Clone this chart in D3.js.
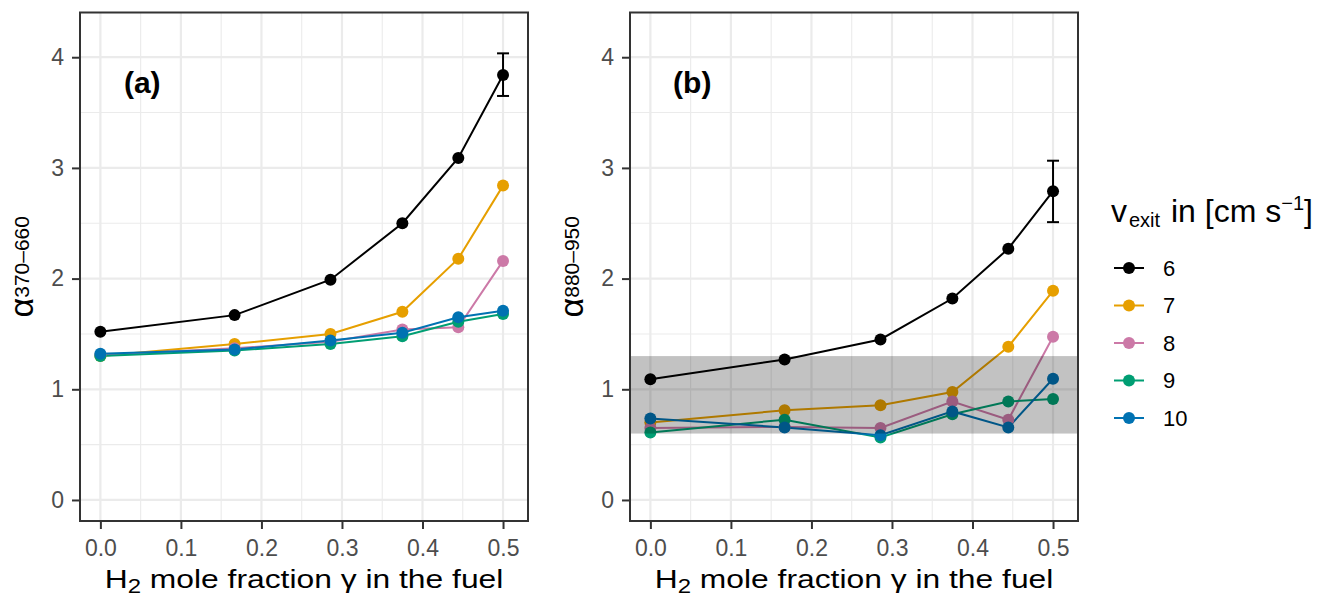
<!DOCTYPE html>
<html>
<head>
<meta charset="utf-8">
<script src="https://cdn.jsdelivr.net/npm/d3@7"></script>
<style>
  body { margin: 0; background: #fff; }
  svg { font-family: "Liberation Sans", Arial, Helvetica, sans-serif; }
</style>
</head>
<body>
<div id="chart"></div>
<script>
const width = 1321;
const height = 600;

// H2 mole fraction in the fuel
const gamma = [0, 1 / 6, 2 / 7, 3 / 8, 4 / 9, 0.5];
const speeds = ['6', '7', '8', '9', '10'];
const colors = ['#000000', '#E69F00', '#CC79A7', '#009E73', '#0072B2'];

// alpha 370-660, one row per exit speed
const alphaA = [
  [1.52, 1.67, 1.99, 2.50, 3.09, 3.84],
  [1.30, 1.41, 1.50, 1.70, 2.18, 2.84],
  [1.31, 1.37, 1.43, 1.54, 1.56, 2.16],
  [1.30, 1.35, 1.41, 1.48, 1.61, 1.68],
  [1.32, 1.36, 1.44, 1.51, 1.65, 1.71]
];
// alpha 880-950
const alphaB = [
  [1.09, 1.27, 1.45, 1.82, 2.27, 2.79],
  [0.70, 0.81, 0.855, 0.975, 1.385, 1.89],
  [0.65, 0.66, 0.65, 0.89, 0.725, 1.475],
  [0.61, 0.725, 0.565, 0.775, 0.89, 0.912],
  [0.735, 0.655, 0.585, 0.80, 0.655, 1.095]
];
// error bars on v = 6 at gamma = 0.5
const errA = [3.65, 4.035];
const errB = [2.51, 3.065];
// shaded band in panel b
const bandB = [0.6, 1.3];

const xTicks = [0, 0.1, 0.2, 0.3, 0.4, 0.5];
const xMinor = [0.05, 0.15, 0.25, 0.35, 0.45];
const yTicks = [0, 1, 2, 3, 4];
const yMinor = [0.5, 1.5, 2.5, 3.5];

const svg = d3.select('#chart')
  .append('svg')
  .attr('width', width)
  .attr('height', height);

function drawPanel(left, values, err, band, tag, sub) {
  const box = { left: left, right: left + 448, top: 12.5, bottom: 521 };

  const xScale = d3.scaleLinear()
    .domain([-0.0253, 0.531])
    .range([box.left, box.right]);
  const yScale = d3.scaleLinear()
    .domain([-0.19, 4.404])
    .range([box.bottom, box.top]);

  const g = svg.append('g');

  // grid
  const grid = g.append('g').attr('stroke', '#EBEBEB');
  grid.selectAll('.xmin').data(xMinor).join('line')
    .attr('x1', d => xScale(d)).attr('x2', d => xScale(d))
    .attr('y1', box.top).attr('y2', box.bottom).attr('stroke-width', 1.1);
  grid.selectAll('.ymin').data(yMinor).join('line')
    .attr('y1', d => yScale(d)).attr('y2', d => yScale(d))
    .attr('x1', box.left).attr('x2', box.right).attr('stroke-width', 1.1);
  grid.selectAll('.xmaj').data(xTicks).join('line')
    .attr('x1', d => xScale(d)).attr('x2', d => xScale(d))
    .attr('y1', box.top).attr('y2', box.bottom).attr('stroke-width', 2.2);
  grid.selectAll('.ymaj').data(yTicks).join('line')
    .attr('y1', d => yScale(d)).attr('y2', d => yScale(d))
    .attr('x1', box.left).attr('x2', box.right).attr('stroke-width', 2.2);

  const line = d3.line()
    .x((d, i) => xScale(gamma[i]))
    .y(d => yScale(d));

  // lines first, then points (like ggplot layers)
  g.append('g').selectAll('path')
    .data(values)
    .join('path')
    .attr('d', d => line(d))
    .attr('fill', 'none')
    .attr('stroke', (d, i) => colors[i])
    .attr('stroke-width', 2);

  values.forEach((row, i) => {
    g.append('g').selectAll('circle')
      .data(row)
      .join('circle')
      .attr('cx', (d, j) => xScale(gamma[j]))
      .attr('cy', d => yScale(d))
      .attr('r', 6)
      .attr('fill', colors[i]);
  });

  // error bar
  const ex = xScale(gamma[5]);
  const cap = 6;
  const eb = g.append('g').attr('stroke', '#000').attr('stroke-width', 2);
  eb.append('line').attr('x1', ex).attr('x2', ex)
    .attr('y1', yScale(err[0])).attr('y2', yScale(err[1]));
  eb.selectAll('.cap').data(err).join('line')
    .attr('x1', ex - cap).attr('x2', ex + cap)
    .attr('y1', d => yScale(d)).attr('y2', d => yScale(d));

  if (band) {
    g.append('rect')
      .attr('x', box.left)
      .attr('width', box.right - box.left)
      .attr('y', yScale(band[1]))
      .attr('height', yScale(band[0]) - yScale(band[1]))
      .attr('fill', '#000')
      .attr('fill-opacity', 0.24);
  }

  // panel tag
  g.append('text')
    .attr('x', xScale(0.052))
    .attr('y', yScale(3.77))
    .attr('text-anchor', 'middle')
    .attr('dominant-baseline', 'central')
    .attr('font-weight', 'bold')
    .attr('font-size', 30)
    .text(tag);

  // border
  g.append('rect')
    .attr('x', box.left).attr('y', box.top)
    .attr('width', box.right - box.left)
    .attr('height', box.bottom - box.top)
    .attr('fill', 'none')
    .attr('stroke', '#333333')
    .attr('stroke-width', 2);

  // axes
  const xAxis = g.append('g')
    .attr('transform', `translate(0, ${box.bottom})`)
    .call(d3.axisBottom(xScale).tickValues(xTicks).tickFormat(d3.format('.1f'))
      .tickSize(8).tickPadding(11));
  const yAxis = g.append('g')
    .attr('transform', `translate(${box.left}, 0)`)
    .call(d3.axisLeft(yScale).tickValues(yTicks).tickFormat(d3.format('d'))
      .tickSize(8).tickPadding(8));
  [xAxis, yAxis].forEach(ax => {
    ax.select('.domain').remove();
    ax.selectAll('line').attr('stroke', '#333333').attr('stroke-width', 2);
    ax.selectAll('text')
      .attr('fill', '#4D4D4D')
      .attr('font-size', 23)
      .attr('font-family', '"Liberation Sans", Arial, sans-serif');
  });

  // x title (plotmath text in the source is drawn wide)
  const xt = g.append('text')
    .attr('transform', `translate(${(box.left + box.right) / 2}, 588) scale(1.2, 1)`)
    .attr('text-anchor', 'middle')
    .attr('font-size', 26.5)
    .attr('fill', '#000');
  xt.append('tspan').text('H');
  xt.append('tspan').attr('font-size', 20).attr('dy', 5).text('2');
  xt.append('tspan').attr('dy', -5).text(' mole fraction γ in the fuel');

  // y title
  const yt = g.append('text')
    .attr('transform', `translate(${left - 47}, ${(box.top + box.bottom) / 2}) rotate(-90)`)
    .attr('text-anchor', 'middle')
    .attr('font-size', 34)
    .attr('fill', '#000');
  yt.append('tspan').text('α');
  yt.append('tspan').attr('font-size', 21).attr('dy', -4).text(sub);
}

drawPanel(80, alphaA, errA, null, '(a)', '370–660');
drawPanel(630, alphaB, errB, bandB, '(b)', '880–950');

// legend
const legend = svg.append('g');
const lt = legend.append('text')
  .attr('y', 222)
  .attr('font-size', 32)
  .attr('fill', '#000');
lt.append('tspan').attr('x', 1111).text('v');
lt.append('tspan').attr('x', 1129).attr('font-size', 20).attr('dy', 5).text('exit');
lt.append('tspan').attr('x', 1171).attr('dy', -5).text('in [cm s');
lt.append('tspan').attr('font-size', 20).attr('dy', -12).text('−1');
lt.append('tspan').attr('dy', 12).text(']');

const keyY = d3.scalePoint().domain(speeds).range([268, 418]);
const keys = legend.selectAll('.key')
  .data(speeds)
  .join('g')
  .attr('transform', d => `translate(1111, ${keyY(d)})`);
keys.append('line')
  .attr('x1', 3).attr('x2', 33)
  .attr('stroke', (d, i) => colors[i])
  .attr('stroke-width', 2);
keys.append('circle')
  .attr('cx', 18)
  .attr('r', 6)
  .attr('fill', (d, i) => colors[i]);
keys.append('text')
  .attr('x', 52)
  .attr('dominant-baseline', 'central')
  .attr('font-size', 22)
  .text(d => d);
</script>
</body>
</html>
